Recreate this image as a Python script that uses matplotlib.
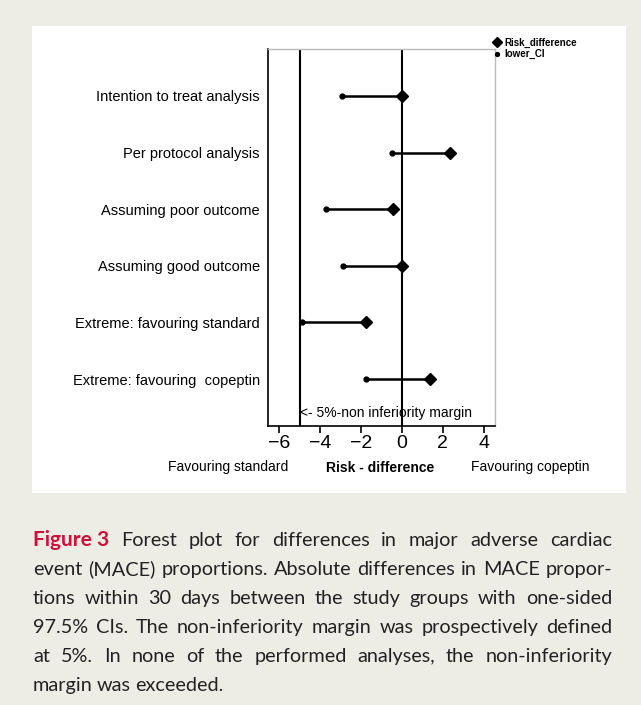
import matplotlib
matplotlib.use('Agg')
import matplotlib.pyplot as plt

# analyses, top to bottom
analyses = ['Intention to treat analysis',
            'Per protocol analysis',
            'Assuming poor outcome',
            'Assuming good outcome',
            'Extreme: favouring standard',
            'Extreme: favouring  copeptin']
risk_difference = [0.0, 2.35, -0.45, 0.0, -1.75, 1.35]
lower_ci = [-2.95, -0.5, -3.7, -2.88, -4.9, -1.74]
margin = -5
xticks = [-6, -4, -2, 0, 2, 4]

caption_lines = [
    'Forest plot for differences in major adverse cardiac',
    'event (MACE) proportions. Absolute differences in MACE propor-',
    'tions within 30 days between the study groups with one-sided',
    '97.5% CIs. The non-inferiority margin was prospectively defined',
    'at 5%. In none of the performed analyses, the non-inferiority',
    'margin was exceeded.']

bg = '#eeede5'
plt.rcParams['font.family'] = ['Liberation Sans', 'DejaVu Sans']

fig = plt.figure(figsize=(6.41, 7.05), dpi=100, facecolor=bg)
W, H = 641, 705

# white panel behind the chart
fig.patches.append(plt.Rectangle((32 / W, 1 - 493 / H), 594 / W, 467 / H,
                                 transform=fig.transFigure, facecolor='white',
                                 edgecolor='none', zorder=-5))

ax = fig.add_axes([268 / W, 1 - 426 / H, 227 / W, 377 / H])
ax.set_zorder(2)
ax.set_facecolor('white')

ypos = list(range(1, len(analyses) + 1))
for y, lo, rd in zip(ypos, lower_ci, risk_difference):
    ax.plot([lo, rd], [y, y], color='black', lw=1.8, zorder=3)
ax.plot(risk_difference, ypos, 'D', color='black', ms=6.5, label='Risk_difference', zorder=4)
ax.plot(lower_ci, ypos, 'o', color='black', ms=3.5, label='lower_CI', zorder=4)

ax.axvline(0, color='black', lw=1.5, zorder=2)
ax.axvline(margin, color='black', lw=1.5, zorder=2)

ax.set_xlim(-6.55, 4.55)
ax.set_ylim(6.83, 0.17)
ax.set_xticks(xticks)
ax.set_xticklabels([str(t).replace('-', '\u2212') for t in xticks], fontsize=14)
ax.set_yticks(ypos)
ax.set_yticklabels(analyses, fontsize=10.5)
ax.tick_params(axis='y', length=0, pad=6)
ax.tick_params(axis='x', length=5, width=1.2, pad=1.5)

for s in ['left', 'bottom']:
    ax.spines[s].set_color('black')
    ax.spines[s].set_linewidth(1.2)
for s in ['top', 'right']:
    ax.spines[s].set_color('#bbbbbb')
    ax.spines[s].set_linewidth(1.0)

ax.text(margin, 6.6, '<- 5%-non inferiority margin', fontsize=10,
        ha='left', va='center')

leg = ax.legend(loc='upper left', bbox_to_anchor=(1.0, 1.03), frameon=False,
                prop={'size': 7, 'weight': 'bold'}, handlelength=0.5,
                handletextpad=0.5, labelspacing=0.15, borderaxespad=0, borderpad=0)
leg.legend_handles[0].set_markersize(5.5)
leg.legend_handles[1].set_markersize(2.8)

fig.text(228 / W, 1 - 467 / H, 'Favouring standard', fontsize=10, ha='center', va='center')
fig.text(380 / W, 1 - 468 / H, 'Risk - difference', fontsize=10, weight='bold',
         ha='center', va='center')
fig.text(530 / W, 1 - 467 / H, 'Favouring copeptin', fontsize=10, ha='center', va='center')

# caption, justified word by word
cap_font = ['Lato', 'DejaVu Sans']
left, right = 33, 612
line_y = [546, 575, 604, 633, 662, 691]   # baselines
renderer = fig.canvas.get_renderer()

for i, (line, yy) in enumerate(zip(caption_lines, line_y)):
    pieces = []
    if i == 0:
        pieces.append(('Figure 3', dict(weight='bold', color='#d0103a', size=15)))
    for w in line.split(' '):
        pieces.append((w, dict(color='#222222', size=14.3)))
    texts = []
    for word, kw in pieces:
        t = fig.text(0, 1 - yy / H, word, family=cap_font,
                     va='baseline', ha='left', **kw)
        texts.append(t)
    widths = [t.get_window_extent(renderer).width for t in texts]
    if i < len(caption_lines) - 1:
        gap = (right - left - sum(widths)) / (len(texts) - 1)
    else:
        gap = 4.0
    x = left
    for t, w in zip(texts, widths):
        t.set_x(x / W)
        x += w + gap

fig.savefig('out.png', dpi=100, facecolor=bg)
